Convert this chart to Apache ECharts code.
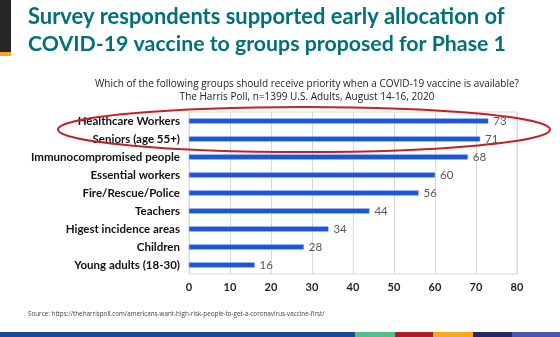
<!DOCTYPE html>
<html><head><meta charset="utf-8">
<script src="https://cdn.jsdelivr.net/npm/echarts@6/dist/echarts.min.js"></script>
<style>html,body{margin:0;padding:0;background:#fff}#c{width:560px;height:337px}</style>
</head><body><div id="c"></div>
<script>
const categories = ['Healthcare Workers','Seniors (age 55+)','Immunocompromised people','Essential workers','Fire/Rescue/Police','Teachers','Higest incidence areas','Children','Young adults (18-30)'];
const values = [73,71,68,60,56,44,34,28,16];
const xTicks = [0,10,20,30,40,50,60,70,80];
const titleLines = ['Survey respondents supported early allocation of','COVID-19 vaccine to groups proposed for Phase 1'];
const subtitleLines = ['Which of the following groups should receive priority when a COVID-19 vaccine is available?','The Harris Poll, n=1399 U.S. Adults, August 14-16, 2020'];
const sourceText = 'Source: https://theharrispoll.com/americans-want-high-risk-people-to-get-a-coronavirus-vaccine-first/';
const footerColors = ['#1b4a92','#55bd8c','#b01c24','#f6a81f','#272765','#4656a8'];
const footerStops = [0,355,395,433,473,512,560];

const chart = echarts.init(document.getElementById('c'));
const graphic = [
  {type:'rect', shape:{x:0,y:0,width:11,height:52}, style:{fill:'#272727'}},
  {type:'rect', shape:{x:0,y:52,width:11,height:4}, style:{fill:'#f5a623'}},
  {type:'text', x:28, y:17, style:{text:titleLines[0], font:'bold 21.9px Lato', fill:'#00707a', verticalAlign:'middle'}},
  {type:'text', x:28, y:44, style:{text:titleLines[1], font:'bold 21.3px Lato', fill:'#00707a', verticalAlign:'middle'}},
  {type:'text', x:307, y:78, style:{text:subtitleLines.join('\n'), font:'10px "Open Sans"', fill:'#222', align:'center', lineHeight:12.5}},
  {type:'text', left:28, top:311, style:{text:sourceText, font:'6.3px "Open Sans"', fill:'#444'}},
  {type:'ellipse', shape:{cx:304, cy:129.5, rx:246, ry:22.5}, style:{fill:'none', stroke:'#c0232b', lineWidth:2}, z:100}
];
for (let i=0;i<footerColors.length;i++) {
  graphic.push({type:'rect', shape:{x:footerStops[i], y:332, width:footerStops[i+1]-footerStops[i], height:5}, style:{fill:footerColors[i]}});
}
chart.setOption({
  animation:false,
  graphic: graphic,
  grid:{left:189, right:43, top:112, bottom:63, show:true, borderColor:'#d9d9d9', borderWidth:1},
  xAxis:{type:'value', min:xTicks[0], max:xTicks[xTicks.length-1], interval:10,
    axisLine:{show:false}, axisTick:{show:false},
    splitLine:{lineStyle:{color:'#d9d9d9'}},
    axisLabel:{fontFamily:'Lato', fontWeight:'bold', fontSize:11, color:'#222', margin:8}},
  yAxis:{type:'category', data:categories, inverse:true,
    axisLine:{show:false}, axisTick:{show:false},
    axisLabel:{fontFamily:'Lato', fontWeight:'bold', fontSize:11.5, color:'#111', margin:9, verticalAlign:'middle', padding:[0,0,4,0]}},
  series:[{type:'bar', data:values, barWidth:5,
    itemStyle:{color:'#1a55d8', borderColor:'#4d7fe6', borderWidth:0.5},
    label:{show:true, position:'right', distance:5, fontFamily:'Lato', fontSize:11.5, color:'#595959', padding:[2,0,0,0]}}]
});
</script></body></html>
